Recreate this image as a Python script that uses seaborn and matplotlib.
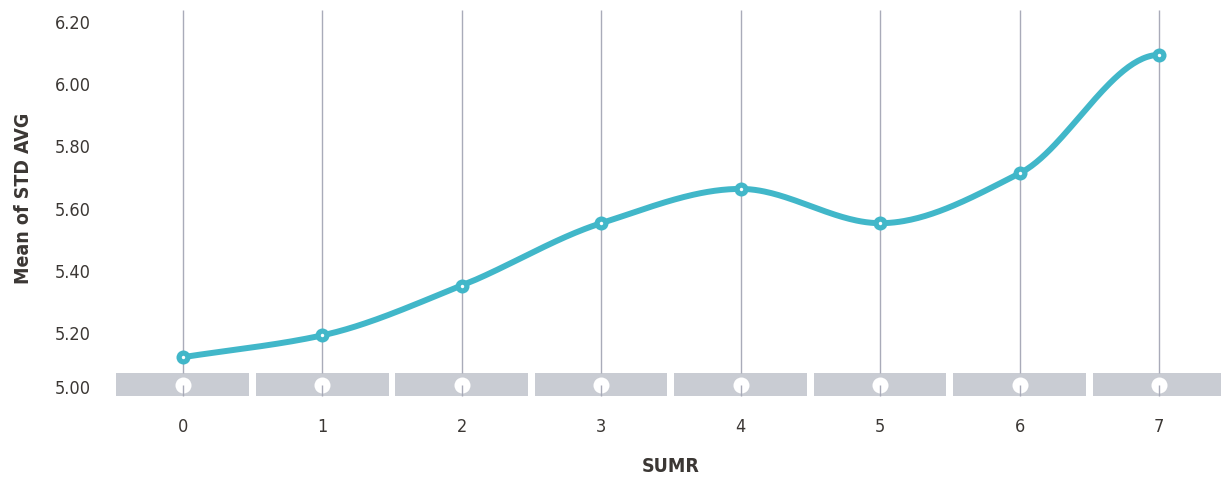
import numpy as np
import pandas as pd
import matplotlib
matplotlib.use("Agg")
import matplotlib.pyplot as plt
import matplotlib.transforms as mtransforms
import seaborn as sns
from matplotlib import font_manager

# ---- data -------------------------------------------------------------
sumr = [0, 1, 2, 3, 4, 5, 6, 7]
mean_std_avg = [5.12, 5.19, 5.35, 5.55, 5.66, 5.55, 5.71, 6.09]
y_ticks = [5.00, 5.20, 5.40, 5.60, 5.80, 6.00, 6.20]
x_tick_labels = [str(v) for v in sumr]

# ---- style ------------------------------------------------------------
sns.set_theme(style="white")

# prefer a narrow face when one is installed
narrow = [f for f in font_manager.fontManager.ttflist
          if "narrow" in f.name.lower() or "condensed" in f.name.lower()
          or str(f.stretch).lower() in ("condensed", "semi-condensed", "extra-condensed")]
narrow_regular = [f for f in narrow if f.weight in ("normal", 400, "regular", "book") and f.style == "normal"]
narrow_bold = [f for f in narrow if f.weight in ("bold", 700) and f.style == "normal"]
if narrow_regular:
    tick_font = font_manager.FontProperties(fname=narrow_regular[0].fname)
else:
    tick_font = font_manager.FontProperties(family="DejaVu Sans")
if narrow_bold:
    title_font = font_manager.FontProperties(fname=narrow_bold[0].fname)
else:
    title_font = font_manager.FontProperties(family="DejaVu Sans", weight="bold")

LINE = "#41b7c9"
BAND = "#c9ccd3"
GRID = "#a9abb9"
TEXT = "#3b3734"

df = pd.DataFrame({"SUMR": sumr, "Mean of STD AVG": mean_std_avg})


def smooth_path(x, y, n=60):
    """Monotone cubic Hermite curve (Fritsch-Butland tangents) through the points."""
    x = np.asarray(x, float)
    y = np.asarray(y, float)
    s = np.diff(y) / np.diff(x)
    m = np.zeros_like(y)
    for i in range(1, len(y) - 1):
        if s[i - 1] * s[i] > 0:
            m[i] = 2 * s[i - 1] * s[i] / (s[i - 1] + s[i])
    m[0] = s[0]
    m[-1] = 0.0
    t = np.linspace(0, 1, n)
    h00 = 2 * t ** 3 - 3 * t ** 2 + 1
    h10 = t ** 3 - 2 * t ** 2 + t
    h01 = -2 * t ** 3 + 3 * t ** 2
    h11 = t ** 3 - t ** 2
    xs, ys = [], []
    for i in range(len(x) - 1):
        h = x[i + 1] - x[i]
        xs.append(x[i] + t * h)
        ys.append(h00 * y[i] + h10 * h * m[i] + h01 * y[i + 1] + h11 * h * m[i + 1])
    return np.concatenate(xs), np.concatenate(ys)


fig = plt.figure(figsize=(12.21, 4.81), dpi=100)
ax = fig.add_axes([113 / 1221, 1 - 395.6 / 481, 1108 / 1221, 384.6 / 481])

y_min, y_max = 5.0, 6.234
ax.set_xlim(-0.5, 7.443)
ax.set_ylim(y_min, y_max)

# category track along the bottom of the plot
band_top = 5.068
band_bot = 4.995
band_mid = (band_bot + band_top) / 2
ax.bar(sumr, band_top - band_bot, bottom=band_bot, width=0.95, color=BAND,
       linewidth=0, zorder=1, clip_on=False)

# vertical guide lines per category
ax.vlines(sumr, band_top, y_max, color=GRID, linewidth=1.0, zorder=2)
ax.scatter(sumr, [band_mid] * len(sumr), s=16 ** 2 * 0.52, color="white",
           linewidths=0, zorder=3)
ax.vlines(sumr, band_bot, band_mid, color=GRID, linewidth=1.0, zorder=4, clip_on=False)

# smoothed series line with point markers
cx, cy = smooth_path(df["SUMR"], df["Mean of STD AVG"])
ax.plot(cx, cy, color=LINE, linewidth=4.3, solid_capstyle="round", zorder=5)
sns.scatterplot(data=df, x="SUMR", y="Mean of STD AVG", ax=ax, s=14 ** 2 * 0.52,
                color=LINE, linewidth=0, zorder=6, legend=False)
ax.scatter(sumr, mean_std_avg, s=6, color="white", linewidths=0, zorder=7)

# axes decoration
sns.despine(ax=ax, left=True, bottom=True, top=True, right=True)
ax.grid(False)
ax.set_xticks(sumr)
ax.set_xticklabels(x_tick_labels)
ax.set_yticks(y_ticks)
ax.set_yticklabels([f"{v:.2f}" for v in y_ticks])
ax.tick_params(axis="both", length=0, colors=TEXT)
ax.tick_params(axis="x", pad=16)
ax.tick_params(axis="y", pad=16)
for lab in ax.get_xticklabels() + ax.get_yticklabels():
    lab.set_fontproperties(tick_font)
    lab.set_fontsize(13)

# the baseline label sits in the middle of the category track
lift = mtransforms.ScaledTranslation(0, 9 / 100, fig.dpi_scale_trans)
base_label = ax.get_yticklabels()[0]
base_label.set_transform(base_label.get_transform() + lift)

ax.set_xlabel("SUMR", color=TEXT)
ax.set_ylabel("Mean of STD AVG", color=TEXT)
for lab in (ax.xaxis.label, ax.yaxis.label):
    lab.set_fontproperties(title_font)
    lab.set_fontsize(14)
ax.xaxis.set_label_coords((671 - 113) / 1108, (395.6 - 467) / 384.6)
ax.xaxis.label.set_va("center")
ax.yaxis.set_label_coords((24 - 113) / 1108, (395.6 - 198) / 384.6)
ax.yaxis.label.set_va("center")

fig.savefig("out.png", dpi=100, facecolor="white")
